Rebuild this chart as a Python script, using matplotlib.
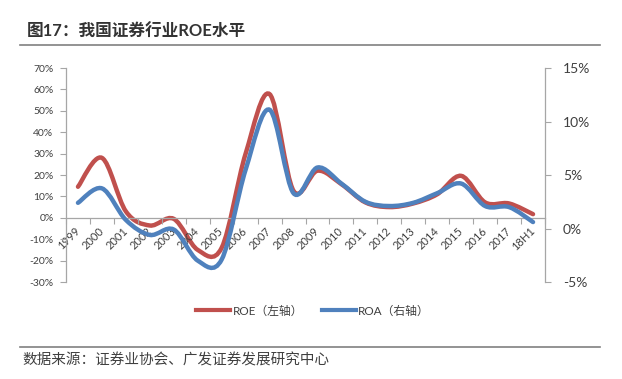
import matplotlib
matplotlib.use('Agg')
import matplotlib.pyplot as plt
from matplotlib.path import Path
from matplotlib.patches import PathPatch
from matplotlib.lines import Line2D

plt.rcParams['font.family'] = ['Lato', 'Noto Sans CJK SC', 'DejaVu Sans']

# Data (%)
years = ['1999', '2000', '2001', '2002', '2003', '2004', '2005', '2006', '2007', '2008',
         '2009', '2010', '2011', '2012', '2013', '2014', '2015', '2016', '2017', '18H1']
roe = [14.5, 28, 3, -3.6, -0.5, -15, -14, 30, 57.8, 12.6,
       22, 15.7, 7.2, 5, 6.7, 11, 19.6, 7.2, 6.7, 1.7]
roa = [2.4, 3.75, 0.8, -0.6, -0.1, -3.0, -2.9, 5.5, 11.1, 3.3,
       5.7, 4.2, 2.5, 2.1, 2.4, 3.3, 4.2, 2.1, 2.0, 0.6]

RED = '#C0504D'
BLUE = '#4F81BD'
GRAY = '#A6A6A6'
TXT = '#404040'


def smooth_path(xs, ys):
    # Excel-style smoothed line as cubic bezier segments through the points
    n = len(xs)
    verts = [(xs[0], ys[0])]
    codes = [Path.MOVETO]
    for i in range(n - 1):
        a, b = max(i - 1, 0), min(i + 2, n - 1)
        c1 = (xs[i] + (xs[i + 1] - xs[a]) / 6, ys[i] + (ys[i + 1] - ys[a]) / 6)
        c2 = (xs[i + 1] - (xs[b] - xs[i]) / 6, ys[i + 1] - (ys[b] - ys[i]) / 6)
        verts += [c1, c2, (xs[i + 1], ys[i + 1])]
        codes += [Path.CURVE4] * 3
    return Path(verts, codes)


fig = plt.figure(figsize=(6.22, 3.79), dpi=100)
ax = fig.add_axes([66 / 622, 1 - 282 / 379, 479 / 622, 214 / 379])
ax2 = ax.twinx()

x = list(range(len(years)))
ax.add_patch(PathPatch(smooth_path(x, roe), fill=False, edgecolor=RED, lw=3.2, capstyle='round'))
ax2.add_patch(PathPatch(smooth_path(x, roa), fill=False, edgecolor=BLUE, lw=3.2, capstyle='round'))

ax.set_xlim(-0.5, len(years) - 0.5)
ax.set_ylim(-30, 70)
ax2.set_ylim(-5, 15)
ax.set_yticks(range(-30, 71, 10))
ax.set_yticklabels([f'{v}%' for v in range(-30, 71, 10)])
ax2.set_yticks(range(-5, 16, 5))
ax2.set_yticklabels([f'{v}%' for v in range(-5, 16, 5)])

for s in ['top', 'right']:
    ax.spines[s].set_visible(False)
for s in ['top', 'left', 'bottom']:
    ax2.spines[s].set_visible(False)
ax.spines['bottom'].set_position(('data', 0))
for sp in [ax.spines['left'], ax.spines['bottom'], ax2.spines['right']]:
    sp.set_color(GRAY)
    sp.set_linewidth(0.9)

ax.set_xticks([i - 0.5 for i in range(len(years) + 1)])
ax.set_xticklabels([])
ax.set_xticks(x, minor=True)
ax.set_xticklabels(years, minor=True, rotation=45, ha='right', va='center',
                   rotation_mode='anchor', fontsize=8, color=TXT)
ax.tick_params(axis='x', which='major', length=4, color=GRAY, direction='out')
ax.tick_params(axis='x', which='minor', length=0, pad=8)
ax.tick_params(axis='y', length=4, color=GRAY, labelsize=7.5, labelcolor=TXT, pad=5)
ax2.tick_params(axis='y', length=4, color=GRAY, labelsize=10, labelcolor=TXT, pad=9)

handles = [Line2D([], [], color=RED, lw=3), Line2D([], [], color=BLUE, lw=3)]
fig.legend(handles, ['ROE（左轴）', 'ROA（右轴）'], loc='center', bbox_to_anchor=(0.503, 1 - 311 / 379),
           ncol=2, frameon=False, fontsize=8.5, handlelength=2.9, handletextpad=0.2,
           columnspacing=1.6, labelcolor=TXT)

fig.text(27 / 622, 1 - 32 / 379, '图17：我国证券行业ROE水平', fontsize=12, fontweight='bold',
         color='#333333', va='center', ha='left')
fig.add_artist(Line2D([20 / 622, 600 / 622], [1 - 45 / 379] * 2, color='#808080', lw=1.2))
fig.add_artist(Line2D([20 / 622, 600 / 622], [1 - 347 / 379] * 2, color='#808080', lw=1.2))
fig.text(22 / 622, 1 - 360 / 379, '数据来源：证券业协会、广发证券发展研究中心', fontsize=10.5,
         color=TXT, va='center', ha='left')

fig.savefig('out.png', dpi=100)
